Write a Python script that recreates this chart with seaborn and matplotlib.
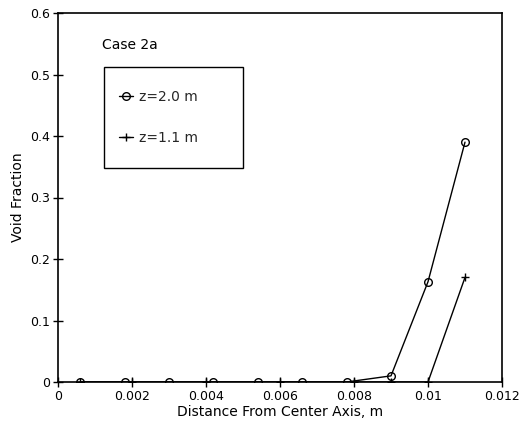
import matplotlib
matplotlib.use("Agg")
import matplotlib.pyplot as plt
from matplotlib.patches import Rectangle
import seaborn as sns
import pandas as pd

x_z20 = [0.0006, 0.0018, 0.0030, 0.0042, 0.0054, 0.0066, 0.0078, 0.0090, 0.0100, 0.0110]
y_z20 = [0.0, 0.0, 0.0, 0.0, 0.0, 0.0, 0.0, 0.01, 0.163, 0.39]
x_z11 = [0.0006, 0.0020, 0.0040, 0.0060, 0.0080, 0.0090, 0.0100, 0.0110]
y_z11 = [0.0, 0.0, 0.0, 0.0, 0.0, 0.0, 0.0, 0.17]
labels = ["z=2.0 m", "z=1.1 m"]
xticks = [0, 0.002, 0.004, 0.006, 0.008, 0.01, 0.012]
xticklabels = ["0", "0.002", "0.004", "0.006", "0.008", "0.01", "0.012"]
yticks = [0, 0.1, 0.2, 0.3, 0.4, 0.5, 0.6]
yticklabels = ["0", "0.1", "0.2", "0.3", "0.4", "0.5", "0.6"]

sns.set_theme(style="white")
plt.rcParams['font.family'] = ['DejaVu Sans']

df1 = pd.DataFrame({"x": x_z20, "y": y_z20})
df2 = pd.DataFrame({"x": x_z11, "y": y_z11})

fig = plt.figure(figsize=(5.2, 4.25), dpi=100)
ax = fig.add_axes([58/520, 1 - 382/425, 444/520, 369/425])

sns.lineplot(data=df1, x="x", y="y", ax=ax, color="black", linewidth=1.0,
             marker="o", markersize=5.5, markerfacecolor="none", markeredgecolor="black",
             markeredgewidth=1.0, label=labels[0])
sns.lineplot(data=df2, x="x", y="y", ax=ax, color="black", linewidth=1.0,
             marker="+", markersize=6, markeredgecolor="black", markerfacecolor="black",
             markeredgewidth=1.0, label=labels[1])

ax.set_xlim(0, 0.012)
ax.set_ylim(0, 0.6)
ax.set_xticks(xticks)
ax.set_xticklabels(xticklabels)
ax.set_yticks(yticks)
ax.set_yticklabels(yticklabels)
ax.tick_params(axis="both", direction="inout", length=7, width=1.0, colors="black",
               labelsize=9, pad=2, bottom=True, left=True)
for s in ax.spines.values():
    s.set_color("black")
    s.set_linewidth(1.2)
ax.set_xlabel("Distance From Center Axis, m", fontsize=10, color="black", labelpad=2)
ax.set_ylabel("Void Fraction", fontsize=10, color="black", labelpad=4)

ax.text(0.099, 0.913, "Case 2a", transform=ax.transAxes, fontsize=10,
        va="center", ha="left", color="black")

ax.add_patch(Rectangle((0.104, 0.580), 0.313, 0.274, transform=ax.transAxes,
                       fill=False, edgecolor="black", linewidth=1.0, zorder=5))

leg = ax.legend(loc="upper left", bbox_to_anchor=(0.138, 0.791), fontsize=10,
                frameon=False, handlelength=1.0, handletextpad=0.45,
                borderpad=0, labelspacing=1.9, borderaxespad=0)

fig.savefig("out.png", dpi=100, facecolor="white")
